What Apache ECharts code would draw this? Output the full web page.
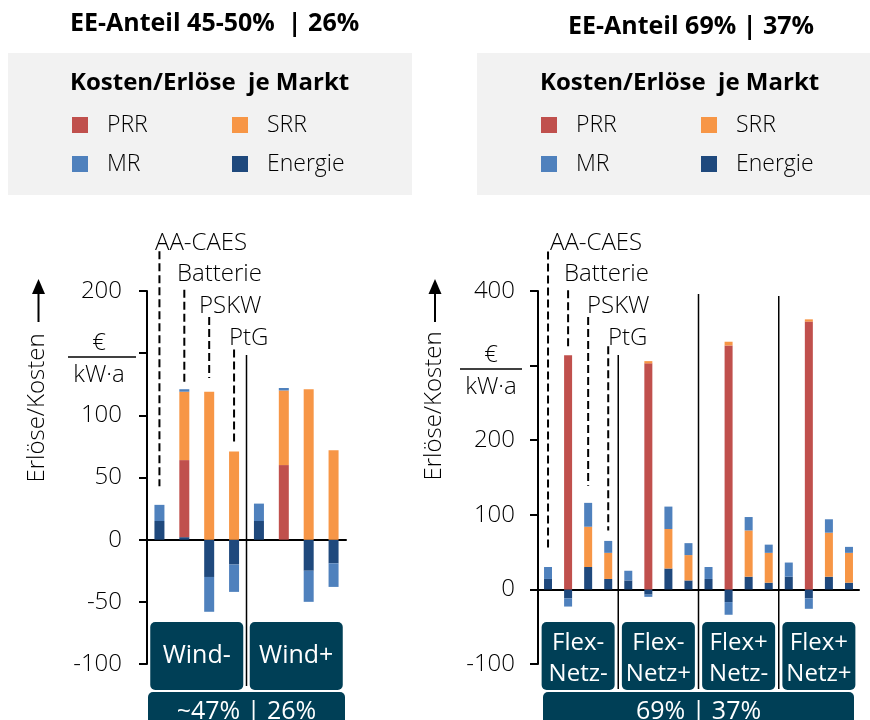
<!DOCTYPE html>
<html><head><meta charset="utf-8">
<script src="https://cdn.jsdelivr.net/npm/echarts@6/dist/echarts.min.js"></script>
<style>html,body{margin:0;padding:0;background:#fff}#c{width:870px;height:720px}</style>
</head><body><div id="c"></div>
<script>
// ---------- data ----------
const techs = ['AA-CAES', 'Batterie', 'PSKW', 'PtG'];
const leftScenarios = ['Wind-', 'Wind+'];
const rightScenarios = ['Flex-\nNetz-', 'Flex-\nNetz+', 'Flex+\nNetz-', 'Flex+\nNetz+'];
const leftTitle = 'EE-Anteil 45-50%  | 26%';
const rightTitle = 'EE-Anteil 69% | 37%';
const leftShare = ['~47% | 26%'];
const rightShare = ['69% | 37%'];
const legendHeading = 'Kosten/Erlöse  je Markt';
const yName = 'Erlöse/Kosten';
const unitTop = '€';
const unitBottom = 'kW·a';

// left chart (8 bars: Wind- x 4 techs, Wind+ x 4 techs)
const leftEnergie = [15, 2, -30, -20, 15, 0, -25, -19];
const leftPRR     = [0, 62, 0, 0, 0, 60, 0, 0];
const leftSRR     = [0, 55, 119, 71, 0, 60, 121, 72];
const leftMR      = [13, 2, -28, -22, 14, 2, -25, -19];
const leftYMin = -100, leftYMax = 200, leftYStep = 50, leftHiddenTick = 150;

// right chart (16 bars: 4 scenarios x 4 techs)
const rightEnergie = [14, -12, 30, 14, 12, -7, 28, 12, 14, -17, 17, 9, 17, -12, 17, 9];
const rightPRR     = [0, 314, 0, 0, 0, 303, 0, 0, 0, 327, 0, 0, 0, 359, 0, 0];
const rightSRR     = [0, 0, 54, 35, 0, 3, 53, 34, 0, 5, 62, 40, 0, 3, 59, 40];
const rightMR      = [16, -11, 32, 16, 13, -3, 30, 16, 16, -17, 18, 11, 19, -14, 18, 8];
const rightYMin = -100, rightYMax = 400, rightYStep = 100, rightHiddenTick = 300;

// leader line extents (in value units of each chart)
const leftLeaderTop = [232, 201, 179, 153];
const leftLeaderBottom = [43, 126, 130, 78];
const rightLeaderTop = [453, 401, 365, 326];
const rightLeaderBottom = [52, 323, 139, 79];

// ---------- styling ----------
const FONT = 'Open Sans';
const W = 300; // light weight for regular texts
const COLORS = { PRR: '#c0504d', SRR: '#f79646', MR: '#4f81bd', Energie: '#1f497d' };
const BOX = '#003f56';

const leftCats = [];
leftScenarios.forEach(s => techs.forEach(t => leftCats.push(s + ' ' + t)));
const rightCats = [];
rightScenarios.forEach(s => techs.forEach(t => rightCats.push(s.replace('\n', ' ') + ' ' + t)));

const chart = echarts.init(document.getElementById('c'), null, { renderer: 'canvas' });

function valueAxis(gridIndex, min, max, step, hidden, margin) {
  return {
    type: 'value', gridIndex, min, max, interval: step,
    axisLine: { show: true, onZero: false, lineStyle: { color: '#000', width: 2 } },
    axisTick: { show: true, length: 8, lineStyle: { color: '#000', width: 2 } },
    splitLine: { show: false },
    axisLabel: { color: '#000', fontSize: 24, fontFamily: FONT, fontWeight: W, margin,
      formatter: v => (v === hidden ? '' : String(v)) }
  };
}
function mainX(gridIndex, cats) {
  return {
    type: 'category', gridIndex, data: cats, position: 'bottom',
    axisLine: { show: true, onZero: true, lineStyle: { color: '#000', width: 2 } },
    axisTick: { show: false }, axisLabel: { show: false }
  };
}
function boxX(gridIndex, cats, offset, width, lineHeight, padding, size) {
  return {
    type: 'category', gridIndex, data: cats, position: 'bottom', offset,
    axisLine: { show: false }, axisTick: { show: false },
    axisLabel: { interval: 0, margin: 2, color: '#fff', fontSize: size || 24, fontFamily: FONT, fontWeight: 400,
      backgroundColor: BOX, borderRadius: 5, width, lineHeight, padding,
      align: 'center', verticalAlign: 'top' }
  };
}
function barSeries(name, data, xi, yi, bw) {
  return { name, type: 'bar', stack: 'g' + xi, xAxisIndex: xi, yAxisIndex: yi, data,
    barWidth: bw, itemStyle: { color: COLORS[name] }, silent: true };
}
function legendItem(name, left, top) {
  return { show: true, data: [name], left, top, padding: 0, orient: 'horizontal',
    selectedMode: false, icon: 'rect', itemWidth: 16, itemHeight: 16,
    textStyle: { fontSize: 23, fontFamily: FONT, fontWeight: W, color: '#000', padding: [0, 0, 0, 14], lineHeight: 26 } };
}
const titleStyle = size => ({ fontSize: size, fontWeight: 'bold', fontFamily: FONT, color: '#000' });

const option = {
  animation: false,
  backgroundColor: '#fff',
  title: [
    { text: leftTitle, left: 70, top: 11, padding: 0, textStyle: titleStyle(25) },
    { text: rightTitle, left: 568, top: 14, padding: 0, textStyle: titleStyle(25) },
    { text: legendHeading, left: 70, top: 71, padding: 0, textStyle: titleStyle(24) },
    { text: legendHeading, left: 540, top: 71, padding: 0, textStyle: titleStyle(24) }
  ],
  legend: [
    legendItem('PRR', 72, 112), legendItem('SRR', 232, 112),
    legendItem('MR', 72, 151), legendItem('Energie', 232, 151),
    legendItem('PRR', 541, 112), legendItem('SRR', 701, 112),
    legendItem('MR', 541, 151), legendItem('Energie', 701, 151)
  ],
  grid: [
    { left: 147, top: 291, width: 199, height: 373, containLabel: false, outerBoundsMode: 'none' },
    { left: 538, top: 291, width: 321, height: 373, containLabel: false, outerBoundsMode: 'none' }
  ],
  xAxis: [
    mainX(0, leftCats),
    boxX(0, leftScenarios, -44, 93, 28, [20, 0, 20, 0], 25),
    boxX(0, leftShare, 26, 197, 28, [6, 0, 20, 0], 25),
    mainX(1, rightCats),
    boxX(1, rightScenarios, -44, 73, 31, [6, 0, 0, 0], 24),
    boxX(1, rightShare, 26, 311, 28, [6, 0, 20, 0], 25)
  ],
  yAxis: [
    valueAxis(0, leftYMin, leftYMax, leftYStep, leftHiddenTick, 25),
    valueAxis(1, rightYMin, rightYMax, rightYStep, rightHiddenTick, 23)
  ],
  series: [
    barSeries('Energie', leftEnergie, 0, 0, 10),
    barSeries('PRR', leftPRR, 0, 0, 10),
    barSeries('SRR', leftSRR, 0, 0, 10),
    barSeries('MR', leftMR, 0, 0, 10),
    barSeries('Energie', rightEnergie, 3, 1, 8),
    barSeries('PRR', rightPRR, 3, 1, 8),
    barSeries('SRR', rightSRR, 3, 1, 8),
    barSeries('MR', rightMR, 3, 1, 8)
  ]
};
chart.setOption(option);

// ---------- annotations computed from the chart's own scales ----------
function px(xi, idx) { return chart.convertToPixel({ xAxisIndex: xi }, idx); }
function py(yi, v) { return chart.convertToPixel({ yAxisIndex: yi }, v); }

const g = [];
g.push({ type: 'rect', z: -10, shape: { x: 8, y: 53, width: 404, height: 142 }, style: { fill: '#f2f2f2' } });
g.push({ type: 'rect', z: -10, shape: { x: 477, y: 53, width: 393, height: 142 }, style: { fill: '#f2f2f2' } });

function axisName(cx, cyText, arrowX) {
  g.push({ type: 'text', x: cx, y: cyText, rotation: Math.PI / 2,
    style: { text: yName, fontSize: 24, fontFamily: FONT, fontWeight: W, fill: '#000', align: 'center', verticalAlign: 'middle' } });
  g.push({ type: 'line', shape: { x1: arrowX, y1: 322, x2: arrowX, y2: 290 }, style: { stroke: '#000', lineWidth: 2 } });
  g.push({ type: 'polygon', shape: { points: [[arrowX, 279], [arrowX - 6.5, 294], [arrowX + 6.5, 294]] }, style: { fill: '#000' } });
}
axisName(37, 408, 38.5);
axisName(434, 406, 435);

function unit(cx, lineY, x1, x2) {
  g.push({ type: 'text', x: cx, y: lineY - 14, style: { text: unitTop, fontSize: 24, fontFamily: FONT, fontWeight: W, fill: '#000', align: 'center', verticalAlign: 'middle' } });
  g.push({ type: 'line', shape: { x1, y1: lineY, x2, y2: lineY }, style: { stroke: '#000', lineWidth: 1.5 } });
  g.push({ type: 'text', x: cx, y: lineY + 18, style: { text: unitBottom, fontSize: 24, fontFamily: FONT, fontWeight: W, fill: '#000', align: 'center', verticalAlign: 'middle' } });
}
unit(99, 357, 68, 136);
unit(491, 369, 460, 522);

function leaders(xi, yi, tops, bottoms, labelPos) {
  techs.forEach((t, i) => {
    const x = px(xi, i);
    g.push({ type: 'line', shape: { x1: x, y1: py(yi, tops[i]), x2: x, y2: py(yi, bottoms[i]) },
      style: { stroke: '#000', lineWidth: 2, lineDash: [8, 4] } });
    g.push({ type: 'text', x: labelPos[i][0], y: labelPos[i][1],
      style: { text: t, fontSize: 24, fontFamily: FONT, fontWeight: W, fill: '#000', align: 'left', verticalAlign: 'middle' } });
  });
}
leaders(0, 0, leftLeaderTop, leftLeaderBottom, [[155, 243], [177, 274], [199, 306], [229, 338]]);
leaders(3, 1, rightLeaderTop, rightLeaderBottom, [[550, 243], [564, 274], [587, 306], [608, 338]]);

function separator(xi, idx, yTop, yBottom) {
  const x = (px(xi, idx - 1) + px(xi, idx)) / 2;
  g.push({ type: 'line', shape: { x1: x, y1: yTop, x2: x, y2: yBottom }, style: { stroke: '#000', lineWidth: 1.5 } });
}
separator(0, 4, 355, 686);
separator(3, 4, 355, 689);
separator(3, 8, 294, 689);
separator(3, 12, 296, 689);

chart.setOption({ graphic: g });
</script>
</body></html>
